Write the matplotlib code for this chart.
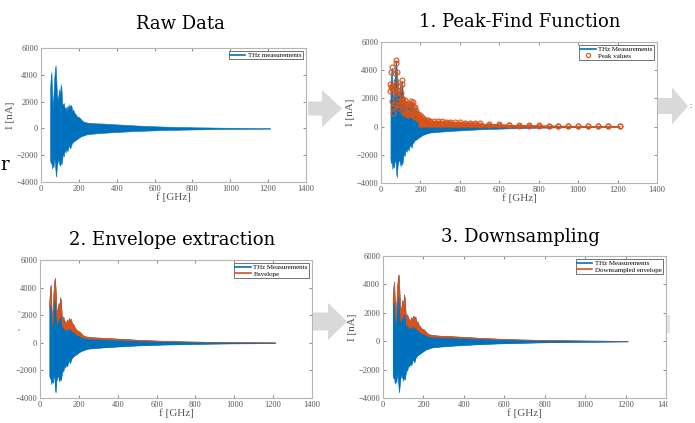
import matplotlib
matplotlib.use("Agg")
import matplotlib.pyplot as plt
from matplotlib.patches import Polygon, Rectangle

# (GHz / nA)
freq = [48, 52, 55, 58, 62, 66, 70, 74, 77, 80, 84, 88, 92, 96, 100, 104, 108, 112, 116, 120,
        125, 130, 135, 140, 145, 150, 155, 160, 165, 170, 175, 180, 190, 200, 210, 220, 230, 240,
        250, 270, 290, 310, 330, 350, 375, 400, 425, 450, 475, 500, 550, 600, 650, 700, 750, 800,
        850, 900, 950, 1000, 1050, 1100, 1150, 1210]
i_max = [3000, 3900, 4200, 2900, 1400, 2600, 3800, 4500, 4700, 3900, 2600, 2100, 2500, 2900, 2400,
         3300, 3000, 1900, 1700, 1900, 1500, 1600, 1300, 1700, 1500, 1800, 1600, 1750, 1300, 1400,
         1200, 1100, 900, 850, 700, 550, 480, 450, 420, 400, 380, 370, 360, 340, 320, 300, 280, 260,
         240, 220, 190, 160, 135, 115, 100, 85, 75, 65, 55, 48, 42, 36, 30, 25]
i_top = [2500, 2800, 2700, 1800, 1000, 1600, 2500, 3000, 3200, 2400, 1500, 1300, 1500, 1800, 1500,
         2000, 1800, 1100, 1000, 1200, 900, 1000, 800, 1000, 900, 1100, 900, 1000, 750, 800,
         700, 650, 550, 500, 420, 350, 320, 300, 280, 270, 260, 250, 240, 230, 215, 200, 185, 170,
         160, 145, 125, 105, 90, 75, 65, 55, 48, 42, 36, 31, 27, 23, 19, 15]
i_min = [-2400, -2600, -2500, -3000, -2700, -2900, -2200, -2600, -3300, -3600, -2800, -2500, -2300,
         -2600, -2800, -2500, -2700, -2300, -1800, -2100, -1600, -1800, -1500, -1700, -1400, -1300,
         -1500, -1200, -1100, -1000, -950, -900, -800, -700, -600, -550, -500, -450, -420, -400,
         -370, -350, -330, -310, -290, -270, -250, -230, -210, -195, -170, -145, -125, -110, -95,
         -80, -70, -60, -52, -45, -40, -34, -28, -22]

titles = ["Raw Data", "1. Peak-Find Function", "2. Envelope extraction", "3. Downsampling"]
legend_2nd = [None, "Peak values", "Envelope", "Downsampled envelope"]
xticks = [0, 200, 400, 600, 800, 1000, 1200, 1400]
yticks = [-4000, -2000, 0, 2000, 4000, 6000]

BLUE = "#0072BD"
ORANGE = "#D95319"
GRAY = "#d9d9d9"
W, H = 695, 423

plt.rcParams["font.family"] = "Liberation Serif"

fig = plt.figure(figsize=(6.95, 4.23), dpi=100)


def px_box(x0, y0, x1, y1):
    return [x0 / W, 1 - y1 / H, (x1 - x0) / W, (y1 - y0) / H]


boxes = [px_box(41, 48, 306, 182), px_box(381, 42, 657, 183),
         px_box(40, 260, 312, 398), px_box(383, 256, 666, 398)]
title_pos = [(180, 24), (520, 22), (172, 240), (520, 237)]

for k, box in enumerate(boxes):
    ax = fig.add_axes(box)
    ax.fill_between(freq, i_min, i_max, color=BLUE, lw=0.4, edgecolor=BLUE, zorder=2)
    first = "THz measurements" if k == 0 else "THz Measurements"
    h1, = ax.plot([], [], color=BLUE, lw=1.2, label=first)
    handles = [h1]
    if k == 1:
        tail = [f >= 190 for f in freq]
        ax.fill_between(freq, 0, i_max, where=tail, color=ORANGE, lw=0.6, edgecolor=ORANGE,
                        zorder=3)
        ax.plot(freq, i_max, "o", mfc="none", mec=ORANGE, ms=3.5, mew=0.8, zorder=4)
        ax.plot(freq, i_top, "o", mfc="none", mec=ORANGE, ms=3.5, mew=0.8, zorder=4)
        h2, = ax.plot([], [], "o", mfc="none", mec=ORANGE, ms=3, mew=0.8, label=legend_2nd[k])
        handles.append(h2)
    elif k >= 2:
        ax.fill_between(freq, i_top, i_max, color=ORANGE, lw=0.4, edgecolor=ORANGE, zorder=3)
        ax.fill_between(freq, i_min, i_top, color=BLUE, lw=0, zorder=3)
        h2, = ax.plot([], [], color=ORANGE, lw=1.2, label=legend_2nd[k])
        handles.append(h2)

    ax.set_xlim(0, 1400)
    ax.set_ylim(-4000, 6000)
    ax.set_xticks(xticks)
    ax.set_yticks(yticks)
    ax.tick_params(direction="in", length=2, width=0.6, color="#777777", labelsize=6,
                   labelcolor="#555555", top=True, right=True, pad=2)
    for s in ax.spines.values():
        s.set_color("#b5b5b5")
        s.set_linewidth(0.8)
    ax.set_xlabel("f [GHz]", fontsize=8, color="#555555", labelpad=0)
    if k != 2:
        ax.set_ylabel("I [nA]", fontsize=8, color="#555555", labelpad=1)
    leg = ax.legend(handles=handles, loc="upper right", fontsize=5, frameon=True, fancybox=False,
                    borderpad=0.2, handlelength=2.2, handletextpad=0.4, labelspacing=0.1,
                    borderaxespad=0.4)
    leg.get_frame().set_edgecolor("#333333")
    leg.get_frame().set_linewidth(0.6)

    tx, ty = title_pos[k]
    fig.text(tx / W, 1 - ty / H, titles[k], fontsize=13, family="DejaVu Serif",
             ha="center", va="center")

# cut-off right side of the last panel
fig.add_artist(Rectangle((668 / W, 0), 27 / W, 1 - 228 / H, transform=fig.transFigure,
                         facecolor="white", edgecolor="none", zorder=10))
fig.add_artist(Rectangle((667 / W, 1 - 333 / H), 3 / W, 18 / H, transform=fig.transFigure,
                         facecolor="#e6e6e6", edgecolor="none", zorder=11))


def arrow(x0, x1, x2, yc, shaft, head):
    pts = [(x0, yc - shaft), (x1, yc - shaft), (x1, yc - head), (x2, yc),
           (x1, yc + head), (x1, yc + shaft), (x0, yc + shaft)]
    pts = [(x / W, 1 - y / H) for x, y in pts]
    fig.add_artist(Polygon(pts, closed=True, transform=fig.transFigure,
                           facecolor=GRAY, edgecolor="none", zorder=9))


arrow(308, 322, 342, 108.5, 7, 18.5)
arrow(658, 672, 688, 106, 8, 18.5)
arrow(313, 328, 347, 321.5, 9, 18.5)

# fragments of surrounding text that were cut off
fig.text(0 / W, 1 - 165 / H, "r", fontsize=13, family="DejaVu Serif", ha="left", va="center")
fig.text(689 / W, 1 - 106 / H, ":", fontsize=6, ha="left", va="center", color="#555555")
fig.text(18 / W, 1 - 312 / H, ",", fontsize=6, color="#555555")
fig.text(18 / W, 1 - 330 / H, ",", fontsize=6, color="#555555")

fig.savefig("out.png", dpi=100)
